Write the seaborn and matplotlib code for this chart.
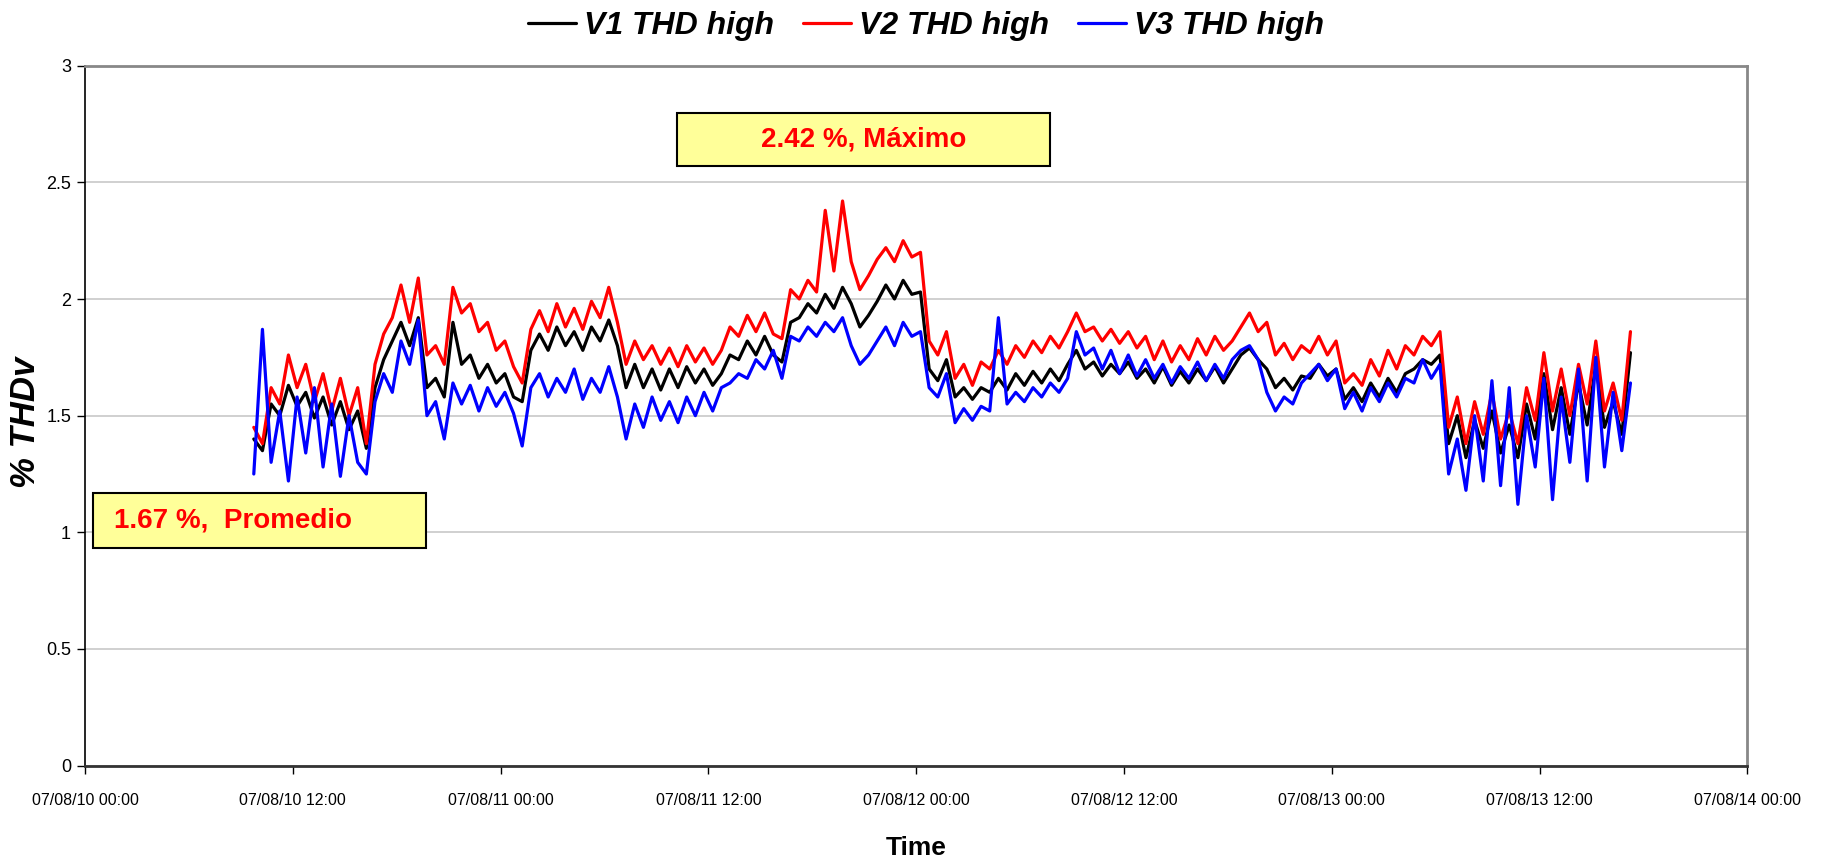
import pandas as pd
import matplotlib
matplotlib.use('Agg')
import matplotlib.pyplot as plt
import matplotlib.dates as mdates
from matplotlib.patches import Rectangle
import seaborn as sns

# Samples every 30 min starting 07/08/10 09:45 (% THDv)
start_time = '2007-08-10 09:45'
step = '30min'

v1_thd = [
    1.40, 1.35, 1.55, 1.50, 1.63, 1.54, 1.60, 1.49, 1.58, 1.46, 1.56, 1.44, 1.52, 1.36, 1.62, 1.74, 1.82, 1.90, 1.80, 1.92, 1.62, 1.66, 1.58, 1.90,
    1.72, 1.76, 1.66, 1.72, 1.64, 1.68, 1.58, 1.56, 1.78, 1.85, 1.78, 1.88, 1.80, 1.86, 1.78, 1.88, 1.82, 1.91, 1.80, 1.62, 1.72, 1.62, 1.70, 1.61,
    1.70, 1.62, 1.71, 1.64, 1.70, 1.63, 1.68, 1.76, 1.74, 1.82, 1.76, 1.84, 1.76, 1.73, 1.90, 1.92, 1.98, 1.94, 2.02, 1.96, 2.05, 1.98, 1.88, 1.93,
    1.99, 2.06, 2.00, 2.08, 2.02, 2.03, 1.70, 1.65, 1.74, 1.58, 1.62, 1.57, 1.62, 1.60, 1.66, 1.61, 1.68, 1.63, 1.69, 1.64, 1.70, 1.65, 1.72, 1.78,
    1.70, 1.73, 1.67, 1.72, 1.68, 1.73, 1.66, 1.70, 1.64, 1.71, 1.63, 1.69, 1.64, 1.70, 1.65, 1.71, 1.64, 1.70, 1.76, 1.79, 1.74, 1.70, 1.62, 1.66,
    1.61, 1.67, 1.66, 1.72, 1.67, 1.70, 1.57, 1.62, 1.56, 1.64, 1.58, 1.66, 1.60, 1.68, 1.70, 1.74, 1.72, 1.76, 1.38, 1.50, 1.32, 1.48, 1.36, 1.52,
    1.34, 1.46, 1.32, 1.55, 1.40, 1.68, 1.44, 1.62, 1.42, 1.64, 1.46, 1.72, 1.45, 1.56, 1.42, 1.77,
]

v2_thd = [
    1.45, 1.38, 1.62, 1.55, 1.76, 1.62, 1.72, 1.56, 1.68, 1.52, 1.66, 1.50, 1.62, 1.38, 1.72, 1.85, 1.92, 2.06, 1.90, 2.09, 1.76, 1.80, 1.72, 2.05,
    1.94, 1.98, 1.86, 1.90, 1.78, 1.82, 1.71, 1.64, 1.87, 1.95, 1.86, 1.98, 1.88, 1.96, 1.87, 1.99, 1.92, 2.05, 1.90, 1.72, 1.82, 1.74, 1.80, 1.72,
    1.79, 1.71, 1.80, 1.73, 1.79, 1.72, 1.78, 1.88, 1.84, 1.93, 1.86, 1.94, 1.85, 1.83, 2.04, 2.00, 2.08, 2.03, 2.38, 2.12, 2.42, 2.16, 2.04, 2.10,
    2.17, 2.22, 2.16, 2.25, 2.18, 2.20, 1.82, 1.76, 1.86, 1.66, 1.72, 1.63, 1.73, 1.70, 1.78, 1.72, 1.80, 1.75, 1.82, 1.77, 1.84, 1.79, 1.86, 1.94,
    1.86, 1.88, 1.82, 1.87, 1.81, 1.86, 1.79, 1.84, 1.74, 1.82, 1.73, 1.80, 1.74, 1.83, 1.76, 1.84, 1.78, 1.82, 1.88, 1.94, 1.86, 1.90, 1.76, 1.81,
    1.74, 1.80, 1.77, 1.84, 1.76, 1.82, 1.64, 1.68, 1.63, 1.74, 1.67, 1.78, 1.70, 1.80, 1.76, 1.84, 1.80, 1.86, 1.45, 1.58, 1.38, 1.56, 1.42, 1.60,
    1.40, 1.52, 1.38, 1.62, 1.48, 1.77, 1.52, 1.70, 1.50, 1.72, 1.55, 1.82, 1.52, 1.64, 1.48, 1.86,
]

v3_thd = [
    1.25, 1.87, 1.30, 1.52, 1.22, 1.58, 1.34, 1.62, 1.28, 1.55, 1.24, 1.50, 1.30, 1.25, 1.56, 1.68, 1.60, 1.82, 1.72, 1.91, 1.50, 1.56, 1.40, 1.64,
    1.55, 1.63, 1.52, 1.62, 1.54, 1.60, 1.51, 1.37, 1.62, 1.68, 1.58, 1.66, 1.60, 1.70, 1.57, 1.66, 1.60, 1.71, 1.58, 1.40, 1.55, 1.45, 1.58, 1.48,
    1.56, 1.47, 1.58, 1.50, 1.60, 1.52, 1.62, 1.64, 1.68, 1.66, 1.74, 1.70, 1.78, 1.66, 1.84, 1.82, 1.88, 1.84, 1.90, 1.86, 1.92, 1.80, 1.72, 1.76,
    1.82, 1.88, 1.80, 1.90, 1.84, 1.86, 1.62, 1.58, 1.68, 1.47, 1.53, 1.48, 1.54, 1.52, 1.92, 1.55, 1.60, 1.56, 1.62, 1.58, 1.64, 1.60, 1.66, 1.86,
    1.76, 1.79, 1.70, 1.78, 1.68, 1.76, 1.67, 1.74, 1.66, 1.72, 1.64, 1.71, 1.66, 1.73, 1.65, 1.72, 1.66, 1.74, 1.78, 1.80, 1.74, 1.60, 1.52, 1.58,
    1.55, 1.64, 1.68, 1.72, 1.65, 1.70, 1.53, 1.60, 1.52, 1.62, 1.56, 1.64, 1.58, 1.66, 1.64, 1.74, 1.66, 1.72, 1.25, 1.40, 1.18, 1.50, 1.22, 1.65,
    1.20, 1.62, 1.12, 1.50, 1.28, 1.66, 1.14, 1.58, 1.30, 1.70, 1.22, 1.75, 1.28, 1.60, 1.35, 1.64,
]

series_names = ['V1 THD high', 'V2 THD high', 'V3 THD high']
series_colors = ['#000000', '#FF0000', '#0000FF']

max_label = '2.42 %, Máximo'
avg_label = '1.67 %,  Promedio'

# long-form frame for seaborn
frames = []
for name, vals in zip(series_names, [v1_thd, v2_thd, v3_thd]):
    t = pd.date_range(start_time, periods=len(vals), freq=step)
    frames.append(pd.DataFrame({'Time': t, 'thd': vals, 'serie': name}))
df = pd.concat(frames, ignore_index=True)

sns.set_theme(style='white')
narrow = ['Liberation Sans Narrow', 'Liberation Sans', 'DejaVu Sans']
plt.rcParams['font.family'] = narrow
plt.rcParams['text.color'] = 'black'
plt.rcParams['axes.labelcolor'] = 'black'
plt.rcParams['xtick.color'] = 'black'
plt.rcParams['ytick.color'] = 'black'

fig = plt.figure(figsize=(18.23, 8.63), dpi=100)
ax = fig.add_axes([0.0466, 0.1128, 0.9119, 0.8111])

sns.lineplot(data=df, x='Time', y='thd', hue='serie', hue_order=series_names,
             palette=series_colors, estimator=None, errorbar=None,
             linewidth=2.3, legend=False, ax=ax)

ax.set_xlim(pd.Timestamp('2007-08-10 00:00'), pd.Timestamp('2007-08-14 00:00'))
ax.set_ylim(0, 3)
ax.set_yticks([0, 0.5, 1, 1.5, 2, 2.5, 3])
ax.set_yticklabels(['0', '0.5', '1', '1.5', '2', '2.5', '3'])
ax.xaxis.set_major_locator(mdates.HourLocator(byhour=[0, 12]))
ax.xaxis.set_major_formatter(mdates.DateFormatter('%y/%m/%d %H:%M'))

ax.yaxis.grid(True, color='#c8c8c8', linewidth=1.2)
ax.xaxis.grid(False)
ax.set_axisbelow(True)

ax.spines['left'].set_color('#000000')
ax.spines['left'].set_linewidth(1.2)
ax.spines['bottom'].set_color('#333333')
ax.spines['bottom'].set_linewidth(2)
for side in ['top', 'right']:
    ax.spines[side].set_color('#888888')
    ax.spines[side].set_linewidth(2)

ax.tick_params(axis='both', which='major', direction='out', length=6, width=1,
               color='#000000', left=True, bottom=True)
ax.tick_params(axis='x', pad=14, labelsize=11.5)
ax.tick_params(axis='y', pad=4, labelsize=13)

ax.set_xlabel('Time', fontsize=19, fontweight='bold')
ax.xaxis.set_label_coords(0.5, -0.100)
ax.set_ylabel('% THDv', fontsize=25, fontweight='bold', fontstyle='italic',
              family=['Liberation Sans', 'DejaVu Sans'])
ax.yaxis.set_label_coords(-0.026, 0.49)

# legend on top
handles = ax.get_lines()[:3]
fig.legend(handles, series_names, loc='center', bbox_to_anchor=(0.508, 0.970),
           ncol=3, frameon=False, handlelength=1.5, handletextpad=0.25,
           columnspacing=0.9,
           prop={'family': narrow, 'weight': 'bold', 'style': 'italic', 'size': 23})

# annotation boxes
fig.patches.append(Rectangle((0.3714, 0.8077), 0.2046, 0.0614, transform=fig.transFigure,
                             facecolor='#FFFF99', edgecolor='#000000', linewidth=1.5, zorder=5))
fig.text(0.4737, 0.8384, max_label, color='#FF0000', fontsize=20, fontweight='bold',
         family=['Liberation Sans', 'DejaVu Sans'], ha='center', va='center', zorder=6)

fig.patches.append(Rectangle((0.0510, 0.3650), 0.1827, 0.0640, transform=fig.transFigure,
                             facecolor='#FFFF99', edgecolor='#000000', linewidth=1.5, zorder=5))
fig.text(0.0625, 0.3965, avg_label, color='#FF0000', fontsize=20, fontweight='bold',
         family=['Liberation Sans', 'DejaVu Sans'], ha='left', va='center', zorder=6)

fig.savefig('out.png', dpi=100)
